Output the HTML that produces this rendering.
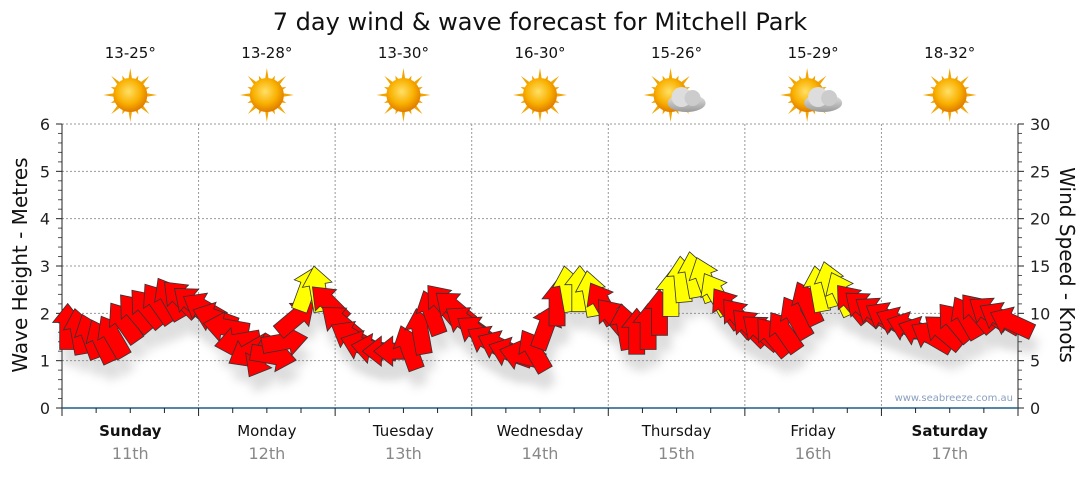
<!DOCTYPE html>
<html><head><meta charset="utf-8"><style>
body{margin:0;background:#fff;width:1080px;height:475px;overflow:hidden;font-family:"DejaVu Sans","Liberation Sans",sans-serif}
</style></head><body>
<svg id="c" width="1080" height="475">
<defs>
<filter id="sh" x="-50%" y="-50%" width="200%" height="200%"><feGaussianBlur stdDeviation="5"/></filter>
<radialGradient id="sun" cx="45%" cy="40%" r="60%"><stop offset="0" stop-color="#ffe066"/><stop offset="0.6" stop-color="#f9b000"/><stop offset="1" stop-color="#e07b00"/></radialGradient>
<linearGradient id="cl" x1="0" y1="0" x2="0" y2="1"><stop offset="0" stop-color="#e8e8e8"/><stop offset="1" stop-color="#9a9a9a"/></linearGradient>
</defs>
<text x="540" y="30" text-anchor="middle" font-size="24" fill="#111">7 day wind &amp; wave forecast for Mitchell Park</text>
<g id="grid"></g><g id="axes"></g><g id="icons"></g><g id="shadows" opacity="0.25"></g><g id="arrows"></g>
<text x="27" y="265" transform="rotate(-90 27 265)" text-anchor="middle" font-size="20" fill="#111">Wave Height - Metres</text>
<text x="1060" y="265" transform="rotate(90 1060 265)" text-anchor="middle" font-size="20" fill="#111">Wind Speed - Knots</text>
<text x="1013" y="401" text-anchor="end" font-size="10" fill="#8aa0bf">www.seabreeze.com.au</text>
</svg>
<script>
const days=["Sunday","Monday","Tuesday","Wednesday","Thursday","Friday","Saturday"];
const dates=["11th","12th","13th","14th","15th","16th","17th"];
const temps=["13-25°","13-28°","13-30°","16-30°","15-26°","15-29°","18-32°"];
const cloudy=[false,false,false,false,true,true,false];
const boldDays=[true,false,false,false,false,false,true];
const leftTicks=[0,1,2,3,4,5,6];
const rightTicks=[0,5,10,15,20,25,30];
const speeds=[8.5,8,7.5,7,7.5,9,10,10.5,11,11.5,11.5,11,
10.5,9.5,8.5,7,6,5.5,5.5,7,9.5,12.5,12.5,11,
9,7.5,6.5,6.2,6,6,6.3,8,10,11,10.5,9,
8,7,6.5,5.8,5.5,6,8.5,11,12.5,12.5,12,11,
9.5,8.5,8,8.5,10,12,13.5,14,13.5,12,10.5,9.5,
8.5,8,7.5,8,9.5,11,12.5,13,12,11,10.5,10,
9.5,9,8.5,8,7.5,8,9,9.5,10,10,9.5,9];
const dirs=[0,-10,-20,-25,-30,-35,-40,-40,-35,-30,-45,-50,
-60,-70,-80,-100,-120,-150,100,80,50,20,-10,-45,
-50,-60,-70,-80,-90,-90,-20,-10,-20,-40,-50,-55,
-55,-60,-65,-70,-75,-30,20,0,-10,0,-10,-30,
-40,-10,0,0,0,0,-5,-10,-20,-30,-35,-40,
-45,-50,-40,-35,-30,-25,-10,-15,-25,-40,-50,-55,
-60,-65,-70,-70,-60,-50,-40,-30,-40,-55,-60,-65];
const X0=62,X1=1018,Y0=408,Y1=124,DW=(X1-X0)/7;
const ym=v=>Y0-(v/6)*(Y0-Y1), yk=v=>Y0-(v/30)*(Y0-Y1);
const ns="http://www.w3.org/2000/svg";
function mk(p,t,a){const e=document.createElementNS(ns,t);for(const k in a)e.setAttribute(k,a[k]);p.appendChild(e);return e;}
const G=document.getElementById('grid'),A=document.getElementById('axes'),I=document.getElementById('icons'),S=document.getElementById('shadows'),R=document.getElementById('arrows');
leftTicks.forEach((v,i)=>{
 if(v>0){const l=mk(G,'line',{x1:X0,x2:X1,y1:ym(v),y2:ym(v),stroke:'#999','stroke-dasharray':'2,2'});
 
 }
 const t=mk(A,'text',{x:X0-12,y:ym(v)+6,'text-anchor':'end','font-size':16,fill:'#222'});t.textContent=v;
 
 
 mk(A,'line',{x1:X0-6,x2:X0,y1:ym(v),y2:ym(v),stroke:'#222'});
 for(let m=1;m<5&&v<6;m++){const yy=ym(v+m/5);mk(A,'line',{x1:X0-4,x2:X0,y1:yy,y2:yy,stroke:'#555'});mk(A,'line',{x1:X1,x2:X1+4,y1:yy,y2:yy,stroke:'#555'});}
});
rightTicks.forEach(v=>{
 const t=mk(A,'text',{x:X1+12,y:yk(v)+6,'font-size':16,fill:'#222'});t.textContent=v;
 
 
 mk(A,'line',{x1:X1,x2:X1+6,y1:yk(v),y2:yk(v),stroke:'#222'});
});
mk(A,'line',{x1:X0,x2:X0,y1:Y1,y2:Y0+8,stroke:'#222'});
mk(A,'line',{x1:X1,x2:X1,y1:Y1,y2:Y0+8,stroke:'#222'});
mk(A,'line',{x1:X0,x2:X1,y1:Y0,y2:Y0,stroke:'#1f5f8a','stroke-width':1.5});
days.forEach((d,i)=>{
 const x=X0+i*DW,cx=x+DW/2;
 if(i>0){const l=mk(G,'line',{x1:x,x2:x,y1:Y1,y2:Y0,stroke:'#999','stroke-dasharray':'2,2'});
 
 
 mk(A,'line',{x1:x,x2:x,y1:Y0,y2:Y0+8,stroke:'#222'});}
 for(let q=1;q<4;q++)mk(A,'line',{x1:x+q*DW/4,x2:x+q*DW/4,y1:Y0,y2:Y0+5,stroke:'#222'});
 const t=mk(A,'text',{x:cx,y:436,'text-anchor':'middle','font-size':15,fill:'#111','font-weight':boldDays[i]?'bold':'normal'});t.textContent=d;
 
 
 const t2=mk(A,'text',{x:cx,y:459,'text-anchor':'middle','font-size':16,fill:'#888'});t2.textContent=dates[i];
 
 
 const t3=mk(I,'text',{x:cx,y:58,'text-anchor':'middle','font-size':15,fill:'#111'});t3.textContent=temps[i];
 
 
 const g=mk(I,'g',{});
 
 
 const sx=cloudy[i]?cx-6:cx,sy=95;
 for(let r=0;r<16;r++){const a=r*Math.PI/8;const l=r%2?21:27;
  mk(g,'polygon',{points:`${sx+Math.cos(a-0.13)*15},${sy+Math.sin(a-0.13)*15} ${sx+Math.cos(a)*l},${sy+Math.sin(a)*l} ${sx+Math.cos(a+0.13)*15},${sy+Math.sin(a+0.13)*15}`,fill:'#f2a400'});}
 mk(g,'circle',{cx:sx,cy:sy,r:17,fill:'url(#sun)'});
 if(cloudy[i]){mk(g,'ellipse',{cx:cx+10,cy:103,rx:19,ry:9,fill:'url(#cl)'});mk(g,'circle',{cx:cx+5,cy:97,r:10,fill:'#ddd'});mk(g,'circle',{cx:cx+16,cy:98,r:8,fill:'#ccc'});}
});
const path="M0,-24 L15,-5 L8,-5 L8,22 L-8,22 L-8,-5 L-15,-5 Z";
speeds.forEach((v,i)=>{
 const x=X0+(i+0.5)*DW/12,y=yk(v);
 mk(S,'path',{d:path,fill:'#777',filter:'url(#sh)',transform:`translate(${x+4},${y+16}) rotate(${dirs[i]})`});
 const a=mk(R,'path',{d:path,fill:v>=12?'#ffff00':'#ff0000',stroke:'#333','stroke-width':0.8,transform:`translate(${x},${y}) rotate(${dirs[i]})`});
 
 
});
</script>
</body></html>
